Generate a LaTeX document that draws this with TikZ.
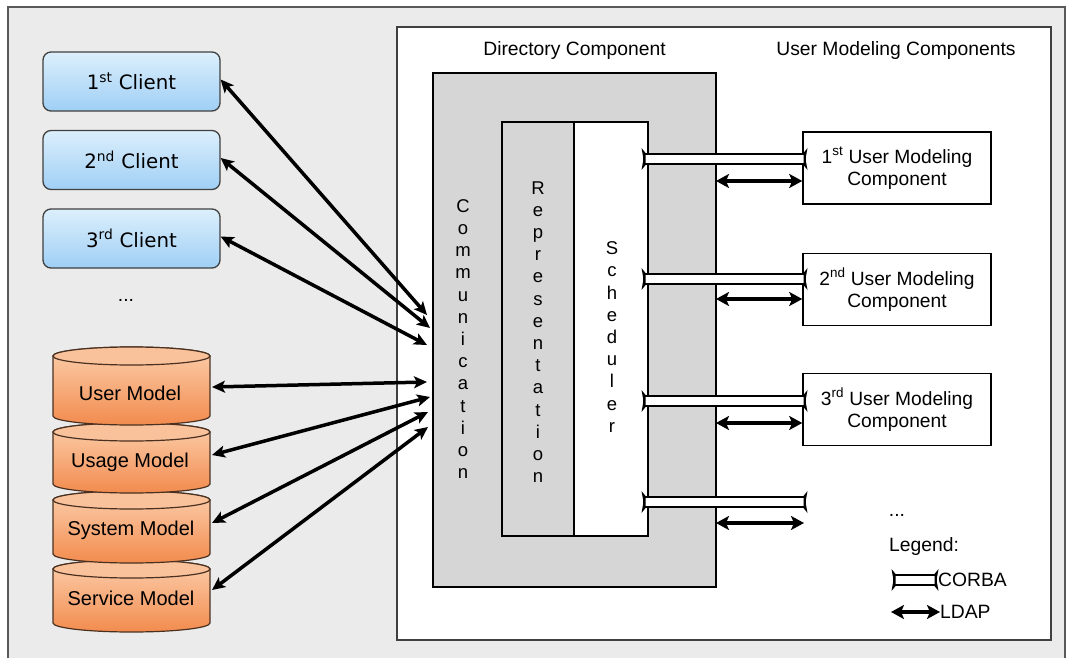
\documentclass[tikz,border=0pt]{standalone}
\usepackage{fontspec}
\setmainfont{Liberation Sans}
\newfontfamily\verd{DejaVu Sans}
\usetikzlibrary{arrows.meta}
\definecolor{bgray}{HTML}{EBEBEB}
\definecolor{dgray}{HTML}{D6D6D6}
\definecolor{cltop}{HTML}{DCEFFC}
\definecolor{clbot}{HTML}{9FCFF5}
\definecolor{cyltop}{HTML}{FCCFAC}
\definecolor{cylbot}{HTML}{F28B4E}
\definecolor{cylcap}{HTML}{FAC29B}
\definecolor{cylline}{HTML}{4A3020}
\newcommand\cylinder[4]{% cx, ytop, ybot, name
  \path[shading=axis, top color=cyltop, bottom color=cylbot, draw=cylline, line width=1.2pt]
    (#1-78.5,#2) -- (#1-78.5,#3) arc[start angle=180, end angle=0, x radius=78.5, y radius=9]
    -- (#1+78.5,#2) arc[start angle=0, end angle=-180, x radius=78.5, y radius=9] -- cycle;
  \draw[fill=cylcap, draw=cylline, line width=1.2pt] (#1,#2) ellipse[x radius=78.5, y radius=9];
}
\newcommand\corbabar[3]{% x1, x2, y
  \draw[fill=white, line width=1.3pt] (#1,#3-5) rectangle (#2,#3+5);
  \fill (#1-2.5,#3-11) -- (#1+1.5,#3-6) -- (#1+1.5,#3+6) -- (#1-2.5,#3+11) -- (#1-0.5,#3) -- cycle;
  \fill (#2+2.5,#3-11) -- (#2-1.5,#3-6) -- (#2-1.5,#3+6) -- (#2+2.5,#3+11) -- (#2+0.5,#3) -- cycle;
}
\begin{document}
\begin{tikzpicture}[x=1pt,y=-1pt,
  client/.style={draw=black!75, line width=1.3pt, rounded corners=8pt, top color=cltop, bottom color=clbot,
     minimum width=177pt, minimum height=59pt, inner sep=0pt, font=\verd\fontsize{19.8}{22}\selectfont},
  umc/.style={draw=black, line width=1.5pt, fill=white, minimum width=188pt, minimum height=72pt,
     inner sep=0pt, align=center, font=\fontsize{19.2}{22}\selectfont},
  vtext/.style={align=center, inner sep=0pt, font=\fontsize{18.5}{22.2}\selectfont},
  lbl/.style={inner sep=0pt, font=\fontsize{19.3}{22}\selectfont},
  dblbl/.style={inner sep=0pt, font=\fontsize{20}{24}\selectfont},
  conn/.style={line width=3.5pt, {Stealth[length=13pt,width=12pt,inset=3pt]}-{Stealth[length=13pt,width=12pt,inset=3pt]}},
  ldap/.style={line width=3.5pt, {Stealth[length=13pt,width=14pt,inset=3pt]}-{Stealth[length=13pt,width=14pt,inset=3pt]}}
]
\useasboundingbox (0,0) rectangle (1069,658);
\fill[white] (0,0) rectangle (1069,658);
% outer frame
\draw[fill=bgray, draw=black!65, line width=1.2pt] (8,7) rectangle (1065,690);
% inner white box
\draw[fill=white, draw=black!75, line width=1.5pt] (397,27) rectangle (1051,640);
% headings
\node[lbl] (hdir) at (574.5,51) {Directory Component};
\node[lbl] (humc) at (896,51) {User Modeling Components};
% directory component
\draw[fill=dgray, line width=1.8pt] (433,73) rectangle (716,587);
\draw[fill=dgray, line width=1.8pt] (502,122) rectangle (574,536);
\draw[fill=white, line width=1.8pt] (574,122) rectangle (648,536);
\node[vtext] (comm) at (463,339) {C\\o\\m\\m\\u\\n\\i\\c\\a\\t\\i\\o\\n};
\node[vtext] (repr) at (538,332) {R\\e\\p\\r\\e\\s\\e\\n\\t\\a\\t\\i\\o\\n};
\node[vtext] (sched) at (612,337) {S\\c\\h\\e\\d\\u\\l\\e\\r};
% user modeling components
\node[umc] (u1) at (897,168) {1\textsuperscript{st} User Modeling\\Component};
\node[umc] (u2) at (897,289.5) {2\textsuperscript{nd} User Modeling\\Component};
\node[umc] (u3) at (897,409.5) {3\textsuperscript{rd} User Modeling\\Component};
% CORBA bars
\corbabar{644}{805}{159}
\corbabar{644}{805}{279}
\corbabar{644}{805}{401}
\corbabar{644}{805}{502}
% LDAP arrows
\coordinate (d1) at (716,181); \coordinate (e1) at (u1.west |- d1);
\coordinate (d2) at (716,299); \coordinate (e2) at (u2.west |- d2);
\coordinate (d3) at (716,423); \coordinate (e3) at (u3.west |- d3);
\coordinate (d4) at (716,523); \coordinate (e4) at (804,523);
\draw[ldap] (d1) -- (e1);
\draw[ldap] (d2) -- (e2);
\draw[ldap] (d3) -- (e3);
\draw[ldap] (d4) -- (e4);
\node[lbl] (dots2) at (897,515) {...};
% legend
\node[lbl, anchor=west] (leg) at (889,547) {Legend:};
\corbabar{894}{936}{580}
\node[lbl, anchor=west] (lcorba) at (938,580) {CORBA};
\coordinate (la) at (891,612); \coordinate (lb) at (940,612);
\draw[ldap] (la) -- (lb);
\node[lbl, anchor=west] (lldap) at (940,612) {LDAP};
% clients
\node[client] (c1) at (131.5,81.5) {1\textsuperscript{st} Client};
\node[client] (c2) at (131.5,160) {2\textsuperscript{nd} Client};
\node[client] (c3) at (131.5,238.5) {3\textsuperscript{rd} Client};
\node[lbl] (dots1) at (126,300) {...};
% databases
\cylinder{131.5}{569}{623}{svm}
\cylinder{131.5}{500}{554}{sm}
\cylinder{131.5}{432}{484}{usm}
\cylinder{131.5}{356}{416}{um}
\node[dblbl] (um) at (130,393) {User Model};
\node[dblbl] (usm) at (130,462) {Usage Model};
\node[dblbl] (sm) at (131,530) {System Model};
\node[dblbl] (svm) at (131,598) {Service Model};
\coordinate (um-e) at (212,387);
\coordinate (usm-e) at (212,455);
\coordinate (sm-e) at (212,523);
\coordinate (svm-e) at (212,590);
% communication endpoints
\coordinate (k1) at (427,315);
\coordinate (k2) at (430,328);
\coordinate (k3) at (427,345);
\coordinate (k4) at (427,382);
\coordinate (k5) at (430,397);
\coordinate (k6) at (428,412);
\coordinate (k7) at (428,427);
\draw[conn] ([yshift=2pt]c1.east) -- (k1);
\draw[conn] ([yshift=2pt]c2.east) -- (k2);
\draw[conn] ([yshift=2pt]c3.east) -- (k3);
\draw[conn] (um-e) -- (k4);
\draw[conn] (usm-e) -- (k5);
\draw[conn] (sm-e) -- (k6);
\draw[conn] (svm-e) -- (k7);
\end{tikzpicture}
\end{document}
